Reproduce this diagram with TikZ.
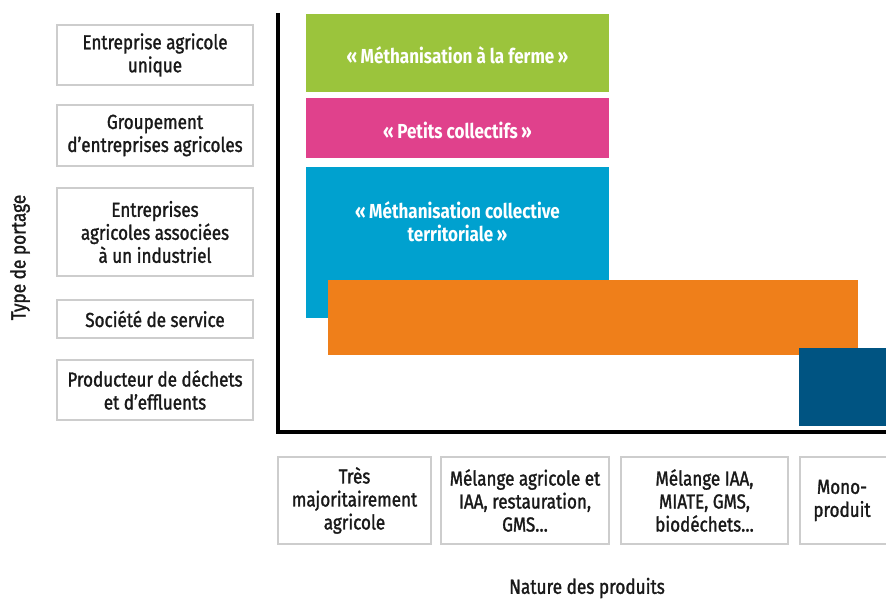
\documentclass[tikz,border=0pt]{standalone}
\usepackage{fontspec}
\setmainfont[FakeStretch=0.84,FakeBold=1.4]{Fira Sans}
\newfontfamily\bandfont[FakeStretch=0.84]{Fira Sans}
\definecolor{cgreen}{RGB}{155,196,60}
\definecolor{cpink}{RGB}{224,65,140}
\definecolor{cblue}{RGB}{0,161,207}
\definecolor{corange}{RGB}{239,127,26}
\definecolor{cdark}{RGB}{0,84,130}
\definecolor{cframe}{RGB}{205,205,205}
\begin{document}
\begin{tikzpicture}[x=1pt,y=-1pt,
  lab/.style={draw=cframe,line width=1.3pt,align=center,inner sep=0pt,font=\fontsize{20.3}{23}\selectfont,text=black!90},
  band/.style={draw=none,inner sep=0pt},
  bandtext/.style={text=white,align=center,font=\bandfont\bfseries\fontsize{20.3}{23}\selectfont},
  axis/.style={line width=4.5pt,black}]
\useasboundingbox (0,0) rectangle (886,599);
% left column
\node[lab,minimum width=196pt,minimum height=60pt] (p1) at (155,55) {Entreprise agricole\\unique};
\node[lab,minimum width=196pt,minimum height=61pt] (p2) at (155,135.5) {Groupement\\d’entreprises agricoles};
\node[lab,minimum width=196pt,minimum height=88pt] (p3) at (155,232) {Entreprises\\agricoles associées\\à un industriel};
\node[lab,minimum width=196pt,minimum height=38pt] (p4) at (155,319) {Société de service};
\node[lab,minimum width=196pt,minimum height=60pt] (p5) at (155,390) {Producteur de déchets\\et d’effluents};
% bottom row
\node[lab,minimum width=153pt,minimum height=87pt] (n1) at (354.5,500.5) {Très\\majoritairement\\agricole};
\node[lab,minimum width=168pt,minimum height=87pt] (n2) at (525,500.5) {Mélange agricole et\\IAA, restauration,\\GMS…};
\node[lab,minimum width=167pt,minimum height=87pt] (n3) at (704.5,500.5) {Mélange IAA,\\MIATE, GMS,\\biodéchets…};
\node[lab,minimum width=88pt,minimum height=87pt] (n4) at (844,500.5) {};
\node[align=center,inner sep=0pt,font=\fontsize{20.3}{23}\selectfont,text=black!90] (n4t) at (842,500.5) {Mono-\\produit};
% bands
\node[band,fill=cgreen,minimum width=303pt,minimum height=78pt] (c1) at (457.5,53) {};
\node[bandtext] (c1t) at (457.5,55) {«\,Méthanisation à la ferme\,»};
\node[band,fill=cpink,minimum width=303pt,minimum height=60pt] (c2) at (457.5,128) {};
\node[bandtext] (c2t) at (457.5,130) {«\,Petits collectifs\,»};
\node[band,fill=cblue,minimum width=303pt,minimum height=151pt] (c3) at (457.5,242.5) {};
\node[bandtext] (c3t) at (457.5,222) {«\,Méthanisation collective\\territoriale\,»};
\node[band,fill=corange,minimum width=530pt,minimum height=75pt] (c4) at (593,317.5) {};
\node[band,fill=cdark,minimum width=92pt,minimum height=78pt] (c5) at (845,387) {};
% axes
\coordinate (ytop) at (278,13);
\coordinate (xend) at (886,432);
\draw[axis] (ytop) |- (xend);
% axis titles
\node[font=\fontsize{20.5}{23}\selectfont,rotate=90,text=black!90] (ylab) at (20,257.5) {Type de portage};
\node[font=\fontsize{20.5}{23}\selectfont,text=black!90] (xlab) at (587,588) {Nature des produits};
\end{tikzpicture}
\end{document}
